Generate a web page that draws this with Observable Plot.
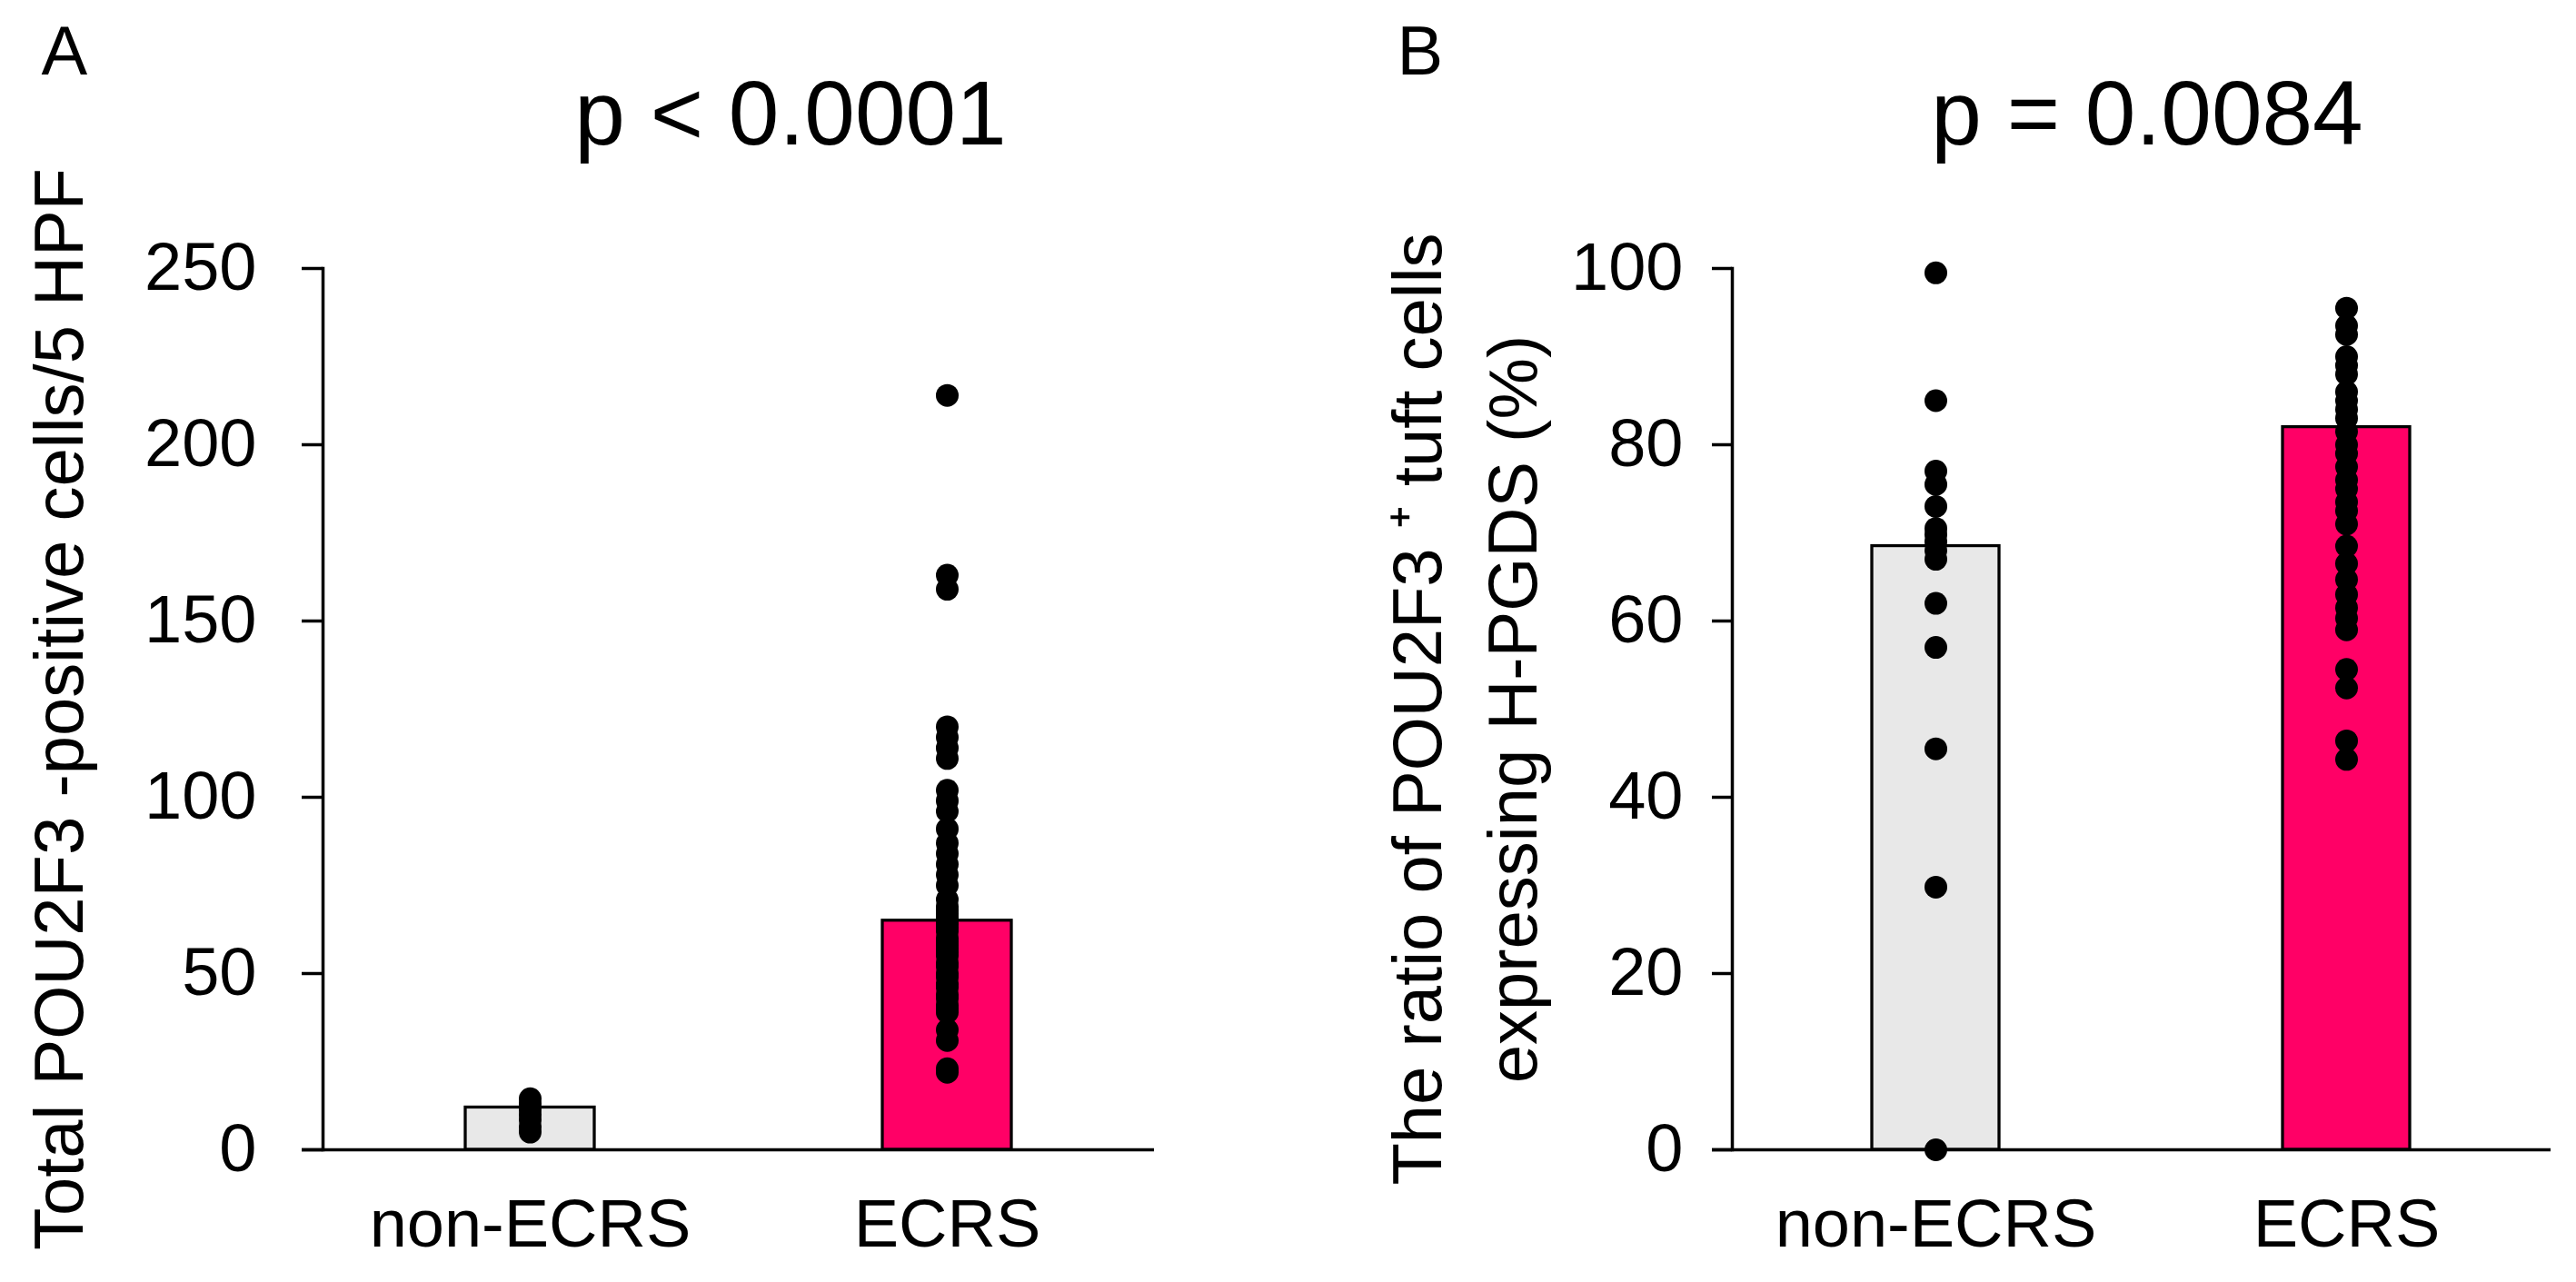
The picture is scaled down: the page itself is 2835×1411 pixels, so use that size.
<!DOCTYPE html>
<html>
<head>
<meta charset="utf-8">
<script src="https://cdn.jsdelivr.net/npm/d3@7"></script>
<script src="https://cdn.jsdelivr.net/npm/@observablehq/plot@0.6"></script>
<style>
  html, body { margin: 0; padding: 0; background: #fff; }
  #wrap { display: flex; width: 2835px; height: 1411px; }
</style>
</head>
<body>
<div id="wrap"></div>
<script>
// ---- data ----
const categories = ["non-ECRS", "ECRS"];
const barColors = ["#e8e8e8", "#ff0066"];

// Panel A: Total POU2F3-positive cells / 5 HPF
const meanA = [12, 65];
const nonEcrsA = [14.5, 13, 11.5, 10, 8.5, 6.5, 5];
const ecrsA = [214, 163, 159, 120, 117, 114, 111, 102, 99, 96, 91, 87, 84, 81, 78, 75,
  71, 69, 68, 67, 66, 65, 64, 63, 62, 60, 59, 58, 57, 56, 55, 53, 52, 50, 49, 47, 46,
  44, 43, 41, 40, 39, 34, 31, 23, 22];
const ticksA = [0, 50, 100, 150, 200, 250];
const titleA = "p < 0.0001";
const letterA = "A";
const yLabelA = "Total POU2F3 -positive cells/5 HPF";

// Panel B: ratio of POU2F3+ tuft cells expressing H-PGDS (%)
const meanB = [68.5, 82];
const nonEcrsB = [99.5, 85, 77, 75.5, 73, 70.5, 69.8, 69, 68, 67, 62, 57, 45.5, 29.8, 0];
const ecrsB = [95.5, 93.5, 92.5, 90, 89, 88, 86, 85, 84, 83, 81.5, 80, 79, 77.5, 76, 75,
  73.5, 72.5, 71, 68.5, 66.5, 64.7, 63, 61.5, 60.3, 59, 54.5, 52.4, 46.4, 44.3];
const ticksB = [0, 20, 40, 60, 80, 100];
const titleB = "p = 0.0084";
const letterB = "B";
const yLabelB = "The ratio of POU2F3 \u207A tuft cells\nexpressing H-PGDS (%)";

// ---- helpers ----
const font = "'Liberation Sans', Arial, Helvetica, sans-serif";

function panel(cfg) {
  const bars = categories.map((c, i) => ({group: c, mean: cfg.means[i]}));
  const dots = [
    ...cfg.groups[0].map(v => ({group: categories[0], value: v})),
    ...cfg.groups[1].map(v => ({group: categories[1], value: v}))
  ];
  return Plot.plot({
    width: cfg.width,
    height: 1411,
    marginTop: 295,
    marginBottom: 146,
    marginLeft: cfg.marginLeft,
    marginRight: cfg.marginRight,
    style: {fontFamily: font, background: "white", color: "black", overflow: "visible"},
    x: {domain: categories, paddingInner: 0.69, paddingOuter: 0.34, axis: null},
    y: {domain: [0, cfg.max], axis: null},
    color: {domain: categories, range: barColors},
    marks: [
      Plot.barY(bars, {x: "group", y: "mean", fill: "group", stroke: "black", strokeWidth: 3.3}),
      Plot.dot(dots, {x: "group", y: "value", r: 12.5, fill: "black", stroke: null}),
      Plot.frame({anchor: "left", strokeWidth: 3.5}),
      Plot.ruleY([0], {strokeWidth: 3.5, insetLeft: -cfg.tickSize}),
      Plot.axisY({ticks: cfg.ticks, tickSize: cfg.tickSize, tickPadding: cfg.tickPadding,
        strokeWidth: 3.5, fontSize: 74, label: null}),
      Plot.axisX({tickSize: 0, tickPadding: 54, fontSize: 74, label: null}),
      Plot.text([cfg.title], {text: d => d, frameAnchor: "top", dx: cfg.titleDx, dy: -137,
        lineAnchor: "bottom", fontSize: 100}),
      Plot.text([cfg.letter], {text: d => d, frameAnchor: "top-left", textAnchor: "start",
        dx: cfg.letterDx, dy: -214, lineAnchor: "bottom", fontSize: 76}),
      Plot.text([cfg.yLabel], {text: d => d, frameAnchor: "left", rotate: -90,
        textAnchor: "middle", lineAnchor: "bottom", lineHeight: 1.37,
        dx: cfg.yLabelDx, fontSize: 76})
    ]
  });
}

const wrap = document.getElementById("wrap");
wrap.appendChild(panel({
  width: 1418, marginLeft: 355, marginRight: 148, max: 250,
  means: meanA, groups: [nonEcrsA, ecrsA], ticks: ticksA,
  tickSize: 23, tickPadding: 50, title: titleA, titleDx: 57,
  letter: letterA, letterDx: -310, yLabel: yLabelA, yLabelDx: -265
}));
wrap.appendChild(panel({
  width: 1417, marginLeft: 488, marginRight: 28, max: 100,
  means: meanB, groups: [nonEcrsB, ecrsB], ticks: ticksB,
  tickSize: 22, tickPadding: 32, title: titleB, titleDx: 6,
  letter: letterB, letterDx: -369, yLabel: yLabelB, yLabelDx: -216
}));
</script>
</body>
</html>
